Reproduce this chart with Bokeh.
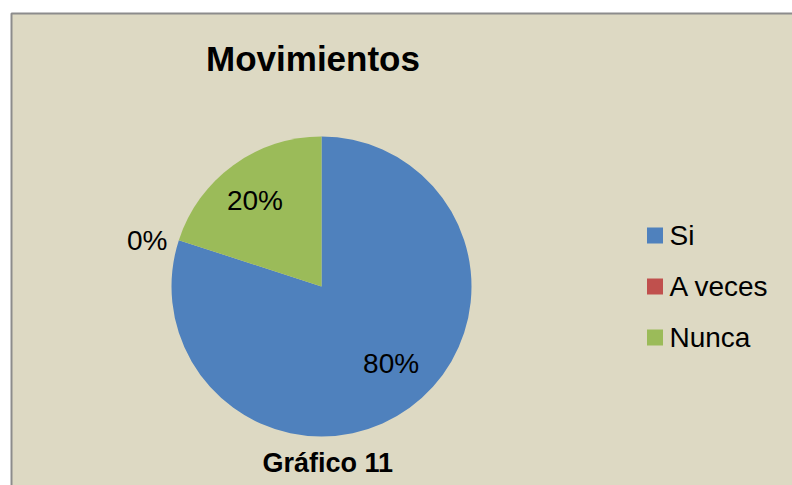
import math
from bokeh.plotting import figure
from bokeh.models import Range1d, ColumnDataSource
from bokeh.core.properties import value
from bokeh.embed import file_html
from bokeh.resources import INLINE

# ---- data ----
chart_title = "Movimientos"
caption = "Gráfico  11"
categories = ["Si", "A veces", "Nunca"]
percentages = [80, 0, 20]
colors = ["#4F81BD", "#C0504D", "#9BBB59"]

# ---- layout ----
W, H = 792, 485
BG = "#DDD9C3"
FONT = value("Liberation Sans")
label_nudge = [(7, 9), (0, -4), (-4, 0)]  # pixel nudges (right, up)


def Y(y_down):
    return H - y_down


p = figure(width=W, height=H, output_backend="svg", toolbar_location=None,
           x_range=Range1d(0, W), y_range=Range1d(0, H), min_border=0,
           x_axis_location=None, y_axis_location=None)
p.grid.visible = False
p.outline_line_color = None
p.background_fill_color = "white"
p.border_fill_color = "white"

# chart area box
p.quad(left=11, right=W + 20, top=Y(13), bottom=-20, fill_color=BG,
       line_color="#8c8c8c", line_width=2)

# pie
cx, cy, r = 321, Y(286), 150
starts, ends = [], []
cum = 0
for v in percentages:
    starts.append(math.pi / 2 - 2 * math.pi * cum / 100)
    cum += v
    ends.append(math.pi / 2 - 2 * math.pi * cum / 100)

idx = [i for i, v in enumerate(percentages) if v > 0]
src = ColumnDataSource(dict(
    x=[cx] * len(idx), y=[cy] * len(idx),
    start=[starts[i] for i in idx], end=[ends[i] for i in idx],
    color=[colors[i] for i in idx]))
p.wedge(x="x", y="y", radius=r, start_angle="start", end_angle="end",
        direction="clock", fill_color="color", line_color=None, source=src)

# data labels
for i, v in enumerate(percentages):
    nx, ny = label_nudge[i]
    if v > 0:
        mid = (starts[i] + ends[i]) / 2
        lx = cx + 0.71 * r * math.cos(mid) + nx
        ly = cy + 0.71 * r * math.sin(mid) + ny
        align = "center"
    else:
        a = starts[i]
        lx = cx + 1.08 * r * math.cos(a) + nx
        ly = cy + 1.08 * r * math.sin(a) + ny
        align = "right"
    p.text(x=[lx], y=[ly], text=[f"{v}%"], text_font=FONT,
           text_font_size="28px", text_align=align,
           text_baseline="middle", text_color="black")

# legend
for i, (cat, col) in enumerate(zip(categories, colors)):
    yy = Y(235 + i * 51)
    p.scatter(x=[654.5], y=[yy], marker="square", size=16,
              fill_color=col, line_color=None)
    p.text(x=[669], y=[yy], text=[cat], text_font=FONT,
           text_font_size="28px", text_align="left",
           text_baseline="middle", text_color="black")

# title and caption
p.text(x=[312.5], y=[Y(57.5)], text=[chart_title], text_font=FONT,
       text_font_size="35px", text_font_style="bold", text_align="center",
       text_baseline="middle", text_color="black")
p.text(x=[331], y=[Y(462.5)], text=[caption], text_font=FONT,
       text_font_size="27px", text_font_style="bold", text_align="center",
       text_baseline="middle", text_color="black")

open("out.html", "w").write(file_html(p, INLINE))
